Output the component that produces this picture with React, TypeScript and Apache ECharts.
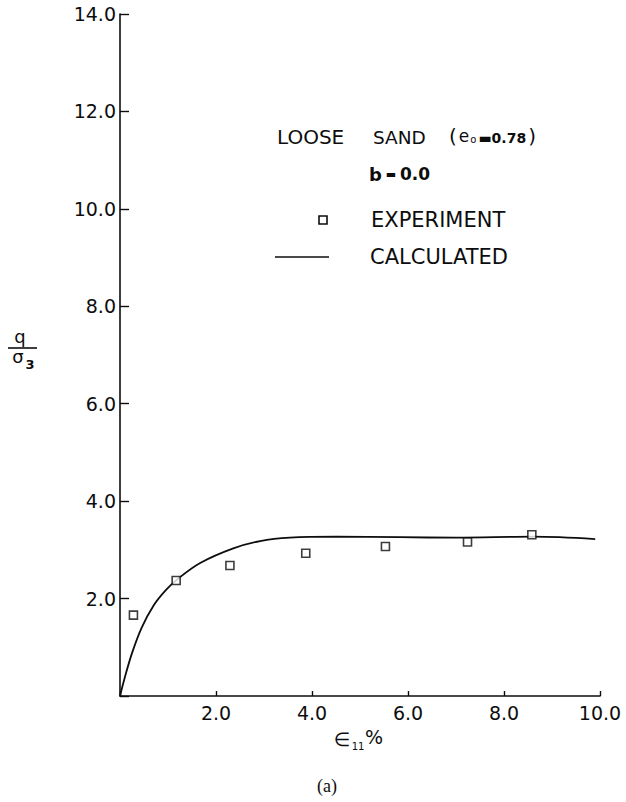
import React, { useEffect, useRef } from "react";
import * as echarts from "echarts";

const xTicks = [0, 2, 4, 6, 8, 10];
const yTicks = [0, 2, 4, 6, 8, 10, 12, 14];

const expX = [0.28, 1.17, 2.29, 3.87, 5.53, 7.24, 8.58];
const expY = [1.66, 2.37, 2.68, 2.93, 3.07, 3.16, 3.31];

const calcX = [0, 0.1, 0.25, 0.45, 0.7, 0.95, 1.2, 1.67, 2.36, 2.92, 3.54, 4.5, 5.83, 7.0, 8.6, 9.9];
const calcY = [0, 0.38, 0.88, 1.4, 1.86, 2.17, 2.4, 2.73, 3.03, 3.18, 3.25, 3.27, 3.26, 3.25, 3.27, 3.22];

const headerWord1 = "LOOSE";
const headerWord2 = "SAND";
const bText = "b";
const bValue = "0.0";
const legendExp = "EXPERIMENT";
const legendCalc = "CALCULATED";

const INK = "#0d0d0d";
const FONT = "DejaVu Sans";

export default function App() {
  const ref = useRef<HTMLDivElement>(null);
  useEffect(() => {
    if (!ref.current) return;
    const chart = echarts.init(ref.current, undefined, { renderer: "svg" });
    const fmt = (v: number) => (v === 0 ? "" : v.toFixed(1));
    chart.setOption({
      animation: false,
      backgroundColor: "#ffffff",
      grid: { left: 120, right: 26, top: 14, bottom: 106, containLabel: false },
      xAxis: {
        type: "value",
        min: xTicks[0],
        max: xTicks[xTicks.length - 1],
        interval: 2,
        splitLine: { show: false },
        axisLine: { show: true, lineStyle: { color: INK, width: 1.6 } },
        axisTick: { show: true, inside: true, length: 5, lineStyle: { color: INK, width: 1.4 } },
        axisLabel: { formatter: fmt, color: INK, fontFamily: FONT, fontSize: 19, margin: 7 },
      },
      yAxis: {
        type: "value",
        min: yTicks[0],
        max: yTicks[yTicks.length - 1],
        interval: 2,
        splitLine: { show: false },
        axisLine: { show: true, lineStyle: { color: INK, width: 1.6 } },
        axisTick: { show: true, inside: true, length: 9, lineStyle: { color: INK, width: 1.4 } },
        axisLabel: { formatter: fmt, color: INK, fontFamily: FONT, fontSize: 19, margin: 4 },
      },
      series: [
        {
          name: legendCalc,
          type: "line",
          data: calcX.map((x, i) => [x, calcY[i]]),
          smooth: 0.35,
          showSymbol: false,
          symbol: "none",
          lineStyle: { color: INK, width: 1.8 },
          z: 2,
        },
        {
          name: legendExp,
          type: "scatter",
          data: expX.map((x, i) => [x, expY[i]]),
          symbol: "rect",
          symbolSize: 8,
          itemStyle: { color: "#ffffff", borderColor: INK, borderWidth: 1.6 },
          z: 3,
        },
      ],
      graphic: [
        // header
        {
          type: "text",
          left: 277,
          top: 127,
          style: { text: headerWord1, fontFamily: FONT, fontSize: 20, fill: INK },
        },
        {
          type: "text",
          left: 373,
          top: 128,
          style: { text: headerWord2, fontFamily: FONT, fontSize: 18.5, fill: INK },
        },
        {
          type: "text",
          left: 449,
          top: 126,
          style: {
            text: "{p|(}{e|e}{s|o}{v|▬0.78}{p|)}",
            fill: INK,
            rich: {
              p: { fontFamily: FONT, fontSize: 20, fill: INK },
              e: { fontFamily: FONT, fontSize: 17, fill: INK, padding: [0, 0, 0, 2] },
              s: { fontFamily: FONT, fontSize: 10, fill: INK, padding: [6, 2, 0, 1] },
              v: { fontFamily: FONT, fontSize: 14, fontWeight: "bold", fill: INK, padding: [4, 2, 0, 0] },
            },
          },
        },
        // b = 0.0
        {
          type: "text",
          left: 369,
          top: 165,
          style: {
            text: "{b|" + bText + "}{q| ▬ }{v|" + bValue + "}",
            fill: INK,
            rich: {
              b: { fontFamily: FONT, fontSize: 18, fontWeight: "bold", fill: INK },
              q: { fontFamily: FONT, fontSize: 11, fontWeight: "bold", fill: INK },
              v: { fontFamily: FONT, fontSize: 17, fontWeight: "bold", fill: INK },
            },
          },
        },
        // legend: experiment
        {
          type: "rect",
          shape: { x: 319, y: 216, width: 8, height: 8 },
          style: { fill: "#ffffff", stroke: INK, lineWidth: 1.6 },
        },
        {
          type: "text",
          left: 371,
          top: 209,
          style: { text: legendExp, fontFamily: FONT, fontSize: 21, fill: INK },
        },
        // legend: calculated
        {
          type: "line",
          shape: { x1: 275, y1: 257, x2: 329, y2: 257 },
          style: { stroke: INK, lineWidth: 1.6 },
        },
        {
          type: "text",
          left: 370,
          top: 246,
          style: { text: legendCalc, fontFamily: FONT, fontSize: 21, fill: INK },
        },
        // y axis title q / sigma_3
        {
          type: "text",
          x: 20,
          y: 336,
          style: { text: "q", fontFamily: FONT, fontSize: 18, fill: INK, textAlign: "center", textVerticalAlign: "middle" },
        },
        {
          type: "line",
          shape: { x1: 8, y1: 348, x2: 37, y2: 348 },
          style: { stroke: INK, lineWidth: 1.6 },
        },
        {
          type: "text",
          x: 18,
          y: 356,
          style: { text: "σ", fontFamily: FONT, fontSize: 18, fill: INK, textAlign: "center", textVerticalAlign: "middle" },
        },
        {
          type: "text",
          x: 30,
          y: 364,
          style: { text: "3", fontFamily: FONT, fontSize: 13, fontWeight: "bold", fill: INK, textAlign: "center", textVerticalAlign: "middle" },
        },
        // x axis title  ∈11 %
        {
          type: "text",
          x: 342,
          y: 739,
          style: { text: "∈", fontFamily: FONT, fontSize: 19, fill: INK, textAlign: "center", textVerticalAlign: "middle" },
        },
        {
          type: "text",
          x: 358,
          y: 746,
          style: { text: "11", fontFamily: FONT, fontSize: 10, fill: INK, textAlign: "center", textVerticalAlign: "middle" },
        },
        {
          type: "text",
          x: 374,
          y: 737,
          style: { text: "%", fontFamily: FONT, fontSize: 19, fill: INK, textAlign: "center", textVerticalAlign: "middle" },
        },
        // caption
        {
          type: "text",
          x: 327,
          y: 786,
          style: { text: "(a)", fontFamily: "Liberation Serif", fontSize: 18, fill: INK, textAlign: "center", textVerticalAlign: "middle" },
        },
      ],
    });
    return () => chart.dispose();
  }, []);
  return (
    <div
      ref={ref}
      style={{ position: "fixed", left: 0, top: 0, width: 626, height: 802, background: "#fff" }}
    />
  );
}
